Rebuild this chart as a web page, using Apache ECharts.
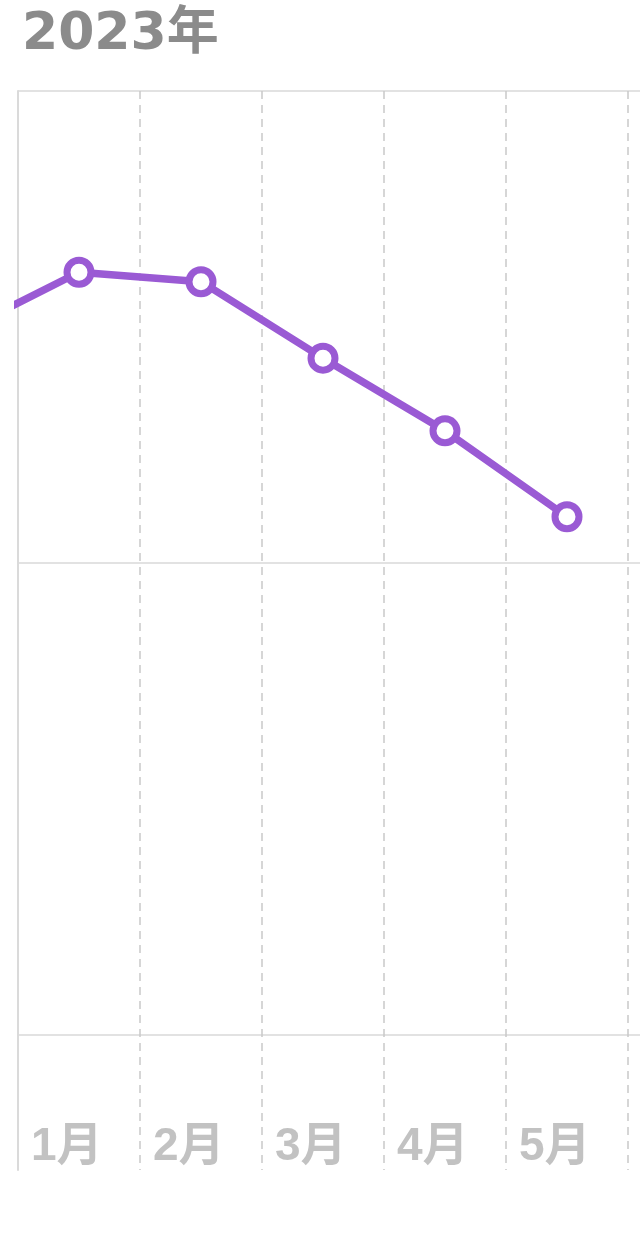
<!DOCTYPE html>
<html>
<head>
<meta charset="utf-8">
<script src="https://cdn.jsdelivr.net/npm/echarts@6/dist/echarts.min.js"></script>
<style>
  html, body { margin: 0; padding: 0; background: #fff; }
  #chart { width: 640px; height: 1233px; }
</style>
</head>
<body>
<div id="chart"></div>
<script>
// 月份（首尾两个月只露出一部分）
const months = ['12月', '1月', '2月', '3月', '4月', '5月', '6月'];
const values = [74.3, 80.8, 79.8, 71.7, 64.0, 54.9, '-'];
// 纵轴范围和网格线间隔
const yMin = -14.3;
const yMax = 100;
const yStep = 50;
const title = '2023年';

const purple = '#9a5ad4';

const chart = echarts.init(document.getElementById('chart'));

const option = {
  backgroundColor: '#fff',
  animation: false,
  title: {
    text: title,
    left: 17,
    top: 4,
    textStyle: {
      fontFamily: '"DejaVu Sans", "Noto Sans CJK SC"',
      fontSize: 52,
      fontWeight: 'bold',
      color: '#8b8b8b'
    }
  },
  grid: {
    left: 18,
    top: 91,
    width: 732,
    bottom: 63,
    containLabel: false,
    outerBoundsMode: 'none'
  },
  xAxis: [
    {
      // 月份分隔（虚线）
      type: 'category',
      data: months,
      min: 1,
      max: 6,
      boundaryGap: true,
      position: 'bottom',
      axisLine: { show: false },
      axisTick: { show: false },
      axisLabel: { show: false, interval: 0 },
      splitLine: {
        show: true,
        interval: 0,
        lineStyle: { color: '#c9c9c9', width: 1.5, type: [8, 6] }
      }
    },
    {
      // 月份文字，靠左放在每格起点
      type: 'value',
      min: 0,
      max: 6,
      interval: 1,
      position: 'bottom',
      axisLine: { show: false },
      axisTick: { show: false },
      splitLine: { show: false },
      axisLabel: {
        inside: true,
        margin: 0,
        align: 'left',
        padding: [0, 0, 0, 13],
        hideOverlap: false,
        showMinLabel: true,
        showMaxLabel: true,
        fontFamily: '"Liberation Sans", "Noto Sans CJK SC"',
        fontSize: 46,
        fontWeight: 'bold',
        color: '#c2c2c2',
        formatter: (v) => months[v + 1] || ''
      }
    }
  ],
  yAxis: {
    type: 'value',
    min: yMin,
    max: yMax,
    minInterval: yStep,
    maxInterval: yStep,
    axisLine: { show: true, lineStyle: { color: '#dadada', width: 2 } },
    axisTick: { show: false },
    axisLabel: { show: false },
    splitLine: {
      show: true,
      showMinLine: false,
      lineStyle: { color: '#e2e2e2', width: 2 }
    }
  },
  series: [
    {
      type: 'line',
      xAxisIndex: 0,
      data: values,
      symbol: 'circle',
      symbolSize: 24,
      clip: true,
      lineStyle: { color: purple, width: 7.5 },
      itemStyle: { color: '#fff', borderColor: purple, borderWidth: 7 },
      emphasis: { disabled: true }
    }
  ]
};

chart.setOption(option);
</script>
</body>
</html>
